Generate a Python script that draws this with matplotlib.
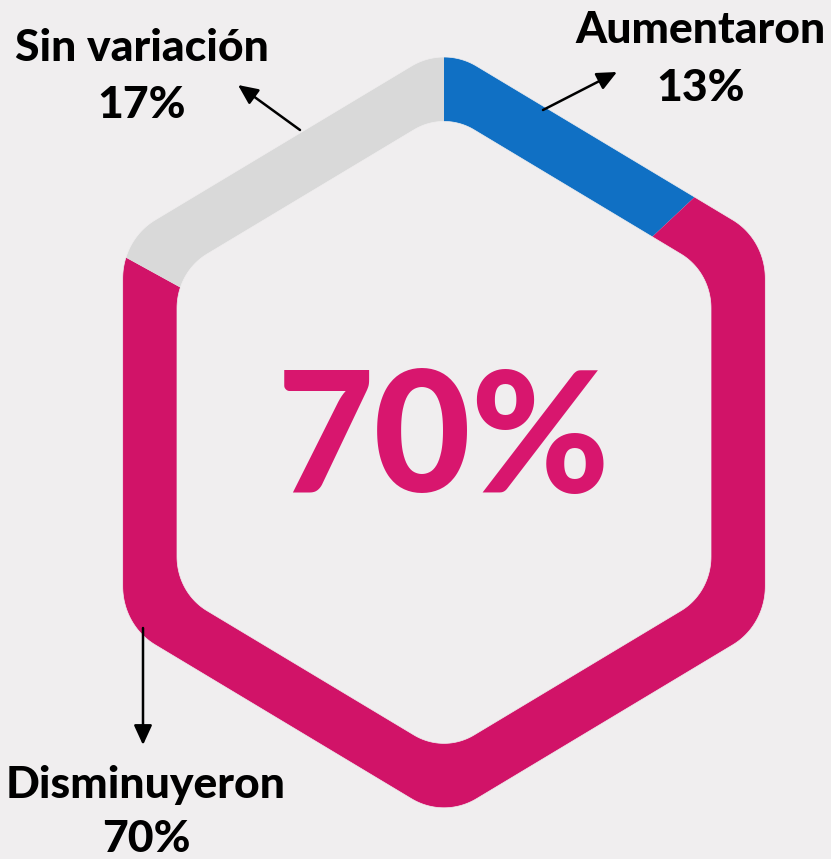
import numpy as np
import matplotlib.pyplot as plt
from matplotlib.path import Path
from matplotlib.patches import PathPatch

labels = ["Aumentaron", "Disminuyeron", "Sin variación"]
shares = [13, 70, 17]
colors = ["#1070C4", "#D11368", "#D9D9D9"]

BG = "#F0EEEF"
W, H = 831, 859
CX, CY = 444, H - 432.4

plt.rcParams['font.family'] = ['Lato', 'DejaVu Sans']


def rounded_hex(cx, cy, apothem, r, sy, n=30):
    # pointy-top hexagon with rounded corners, stretched a bit vertically
    R = (apothem - r) / np.cos(np.radians(30))
    pts = []
    for k in range(6):
        va = np.radians(90 - 60 * k)
        vx, vy = R * np.cos(va), R * np.sin(va)
        for t in np.linspace(va + np.radians(30), va - np.radians(30), n):
            pts.append((cx + vx + r * np.cos(t), cy + sy * (vy + r * np.sin(t))))
    return pts


def closed(pts):
    return pts + [pts[0]], [Path.MOVETO] + [Path.LINETO] * (len(pts) - 1) + [Path.CLOSEPOLY]


outer = rounded_hex(CX, CY, 321.3, 65, 1.04)            # clockwise
inner = rounded_hex(CX, CY, 267, 60, 1.04)[::-1]        # counter-clockwise
frame = [(-20, -20), (W + 20, -20), (W + 20, H + 20), (-20, H + 20)]

# mask = everything outside the outer hexagon + inside the inner one
verts, codes = [], []
for part in (frame, outer, inner):
    v, c = closed(part)
    verts += v
    codes += c
mask = Path(verts, codes)

fig = plt.figure(figsize=(W / 100, H / 100), dpi=100, facecolor=BG)
ax = fig.add_axes([0, 0, 1, 1])
ax.set_facecolor(BG)

wedges, _ = ax.pie(shares, colors=colors, startangle=90, counterclock=False,
                   center=(CX, CY), radius=460,
                   wedgeprops=dict(linewidth=0, edgecolor='none'))

ax.add_patch(PathPatch(mask, facecolor=BG, edgecolor=BG, lw=0.5, zorder=2))

ax.set_xlim(0, W)
ax.set_ylim(0, H)
ax.set_aspect('auto')
ax.axis('off')

# big number in the middle
ax.text(CX, H - 492, f"{shares[1]}%", ha='center', va='baseline',
        fontsize=121, fontweight='black', color="#D8166E", zorder=4)

# label x, label baseline, pct baseline, arrow tail, arrow tip
layout = [
    (701, 43, 101, (543, 110), (617, 72)),
    (146, 798, 852, (143, 628), (143, 745)),
    (142, 61, 118, (300, 130), (238, 85)),
]
for name, val, (lx, ly, py, tail, tip) in zip(labels, shares, layout):
    ax.text(lx, H - ly, name, ha='center', va='baseline', fontsize=32,
            fontweight='black', color='black', zorder=4)
    ax.text(lx, H - py, f"{val}%", ha='center', va='baseline', fontsize=32,
            fontweight='black', color='black', zorder=4)
    ax.annotate('', xy=(tip[0], H - tip[1]), xytext=(tail[0], H - tail[1]),
                arrowprops=dict(arrowstyle='-|>,head_length=1.2,head_width=0.55',
                                mutation_scale=10, lw=1.8, color='black',
                                shrinkA=0, shrinkB=0), zorder=5)

fig.savefig("out.png", dpi=100, facecolor=BG)
